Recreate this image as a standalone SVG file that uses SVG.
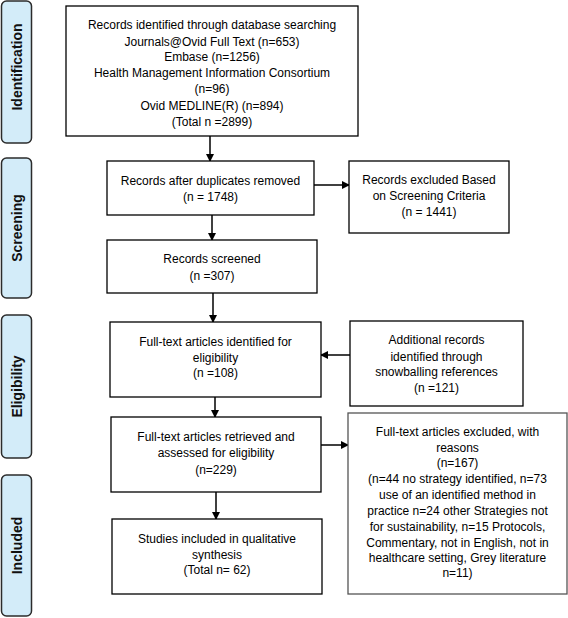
<svg xmlns="http://www.w3.org/2000/svg" width="568" height="618" viewBox="0 0 568 618">
<defs>
<marker id="ah" markerWidth="8" markerHeight="8" refX="7" refY="4" orient="auto" markerUnits="userSpaceOnUse">
<path d="M0,0 L8,4 L0,8 Z" fill="#000"/>
</marker>
</defs>
<style>
.phase{fill:#d3ecf9;stroke:#2b2b2b;stroke-width:1.5}
.phtxt{font-family:"Liberation Sans",Arial,sans-serif;font-weight:bold;font-size:14px;fill:#111;text-anchor:middle}
.box{fill:#fff;stroke:#000;stroke-width:1.3}
.t{font-family:"Liberation Sans",Arial,sans-serif;font-size:12px;fill:#000;text-anchor:middle}
.c{stroke:#000;stroke-width:1.5;fill:none;marker-end:url(#ah)}
</style>
<rect width="568" height="618" fill="#fff"/>
<g id="phase-identification"><rect class="phase" x="1.5" y="1" width="30" height="142" rx="5"/><text class="phtxt" transform="translate(22,67) rotate(-90)">Identification</text></g>
<g id="phase-screening"><rect class="phase" x="1.5" y="158" width="30" height="140" rx="5"/><text class="phtxt" transform="translate(22,228) rotate(-90)">Screening</text></g>
<g id="phase-eligibility"><rect class="phase" x="1.5" y="315" width="30" height="143" rx="5"/><text class="phtxt" transform="translate(22,386.5) rotate(-90)">Eligibility</text></g>
<g id="phase-included"><rect class="phase" x="1.5" y="475" width="30" height="141" rx="5"/><text class="phtxt" transform="translate(22,545.5) rotate(-90)">Included</text></g>

<g id="connectors">
<line class="c" x1="210" y1="136" x2="210" y2="161"/>
<line class="c" x1="314" y1="185" x2="349" y2="185"/>
<line class="c" x1="212" y1="215" x2="212" y2="240"/>
<line class="c" x1="213" y1="293" x2="213" y2="322"/>
<line class="c" x1="350" y1="355" x2="321" y2="355"/>
<line class="c" x1="215" y1="397" x2="215" y2="417"/>
<line class="c" x1="321" y1="445" x2="348" y2="445"/>
<line class="c" x1="216" y1="492" x2="216" y2="519"/>
</g>

<g id="n-identified"><rect class="box" x="66" y="6" width="292" height="130"/>
<text class="t" x="212"><tspan x="212" y="29">Records identified through database searching</tspan><tspan x="212" y="46">Journals@Ovid Full Text (n=653)</tspan><tspan x="212" y="61">Embase (n=1256)</tspan><tspan x="212" y="77">Health Management Information Consortium</tspan><tspan x="212" y="93">(n=96)</tspan><tspan x="212" y="110">Ovid MEDLINE(R) (n=894)</tspan><tspan x="212" y="126">(Total n =2899)</tspan></text></g>

<g id="n-duplicates"><rect class="box" x="107" y="161" width="207" height="54"/>
<text class="t"><tspan x="210.5" y="185">Records after duplicates removed</tspan><tspan x="210.5" y="201">(n = 1748)</tspan></text></g>

<g id="n-excluded-screening"><rect class="box" x="349" y="161" width="160" height="72"/>
<text class="t"><tspan x="429" y="184">Records excluded Based</tspan><tspan x="429" y="200">on Screening Criteria</tspan><tspan x="429" y="216">(n = 1441)</tspan></text></g>

<g id="n-screened"><rect class="box" x="107" y="240" width="210" height="53"/>
<text class="t"><tspan x="212" y="263">Records screened</tspan><tspan x="212" y="280">(n =307)</tspan></text></g>

<g id="n-fulltext-identified"><rect class="box" x="110" y="322" width="211" height="75"/>
<text class="t"><tspan x="215.5" y="346">Full-text articles identified for</tspan><tspan x="215.5" y="362">eligibility</tspan><tspan x="215.5" y="377">(n =108)</tspan></text></g>

<g id="n-additional"><rect class="box" x="350" y="321" width="173" height="85"/>
<text class="t"><tspan x="436.5" y="344">Additional records</tspan><tspan x="436.5" y="361">identified through</tspan><tspan x="436.5" y="376">snowballing references</tspan><tspan x="436.5" y="392">(n =121)</tspan></text></g>

<g id="n-fulltext-retrieved"><rect class="box" x="111" y="417" width="210" height="75"/>
<text class="t"><tspan x="216" y="441">Full-text articles retrieved and</tspan><tspan x="216" y="457">assessed for eligibility</tspan><tspan x="216" y="474">(n=229)</tspan></text></g>

<g id="n-excluded-fulltext"><rect class="box" x="348" y="413" width="219" height="181" style="stroke:#555"/>
<text class="t"><tspan x="457.5" y="436">Full-text articles excluded, with</tspan><tspan x="457.5" y="452">reasons</tspan><tspan x="457.5" y="467">(n=167)</tspan><tspan x="457.5" y="483">(n=44 no strategy identified, n=73</tspan><tspan x="457.5" y="499">use of an identified method in</tspan><tspan x="457.5" y="515">practice n=24 other Strategies not</tspan><tspan x="457.5" y="531">for sustainability, n=15 Protocols,</tspan><tspan x="457.5" y="547">Commentary, not in English, not in</tspan><tspan x="457.5" y="562">healthcare setting, Grey literature</tspan><tspan x="457.5" y="577">n=11)</tspan></text></g>

<g id="n-included"><rect class="box" x="112" y="519" width="210" height="75"/>
<text class="t"><tspan x="217" y="543">Studies included in qualitative</tspan><tspan x="217" y="559">synthesis</tspan><tspan x="217" y="574">(Total n= 62)</tspan></text></g>
</svg>
